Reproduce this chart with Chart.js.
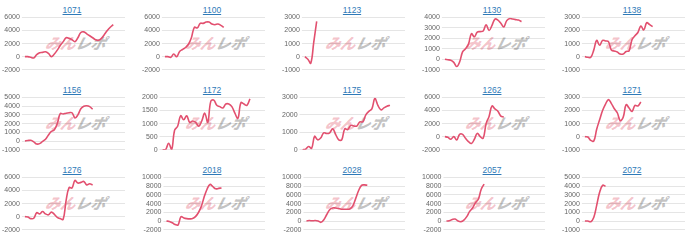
<!DOCTYPE html>
<html><head><meta charset="utf-8">
<script src="https://cdn.jsdelivr.net/npm/chart.js@4/dist/chart.umd.min.js"></script>
<style>
html,body{margin:0;padding:0;background:#fff;}
body{width:700px;height:240px;overflow:hidden;font-family:"Liberation Sans",Arial,sans-serif;}
#grid{position:relative;width:700px;height:240px;}
.panel{position:absolute;width:140px;height:80px;}
.title{position:absolute;left:0;width:144px;top:4px;text-align:center;font-size:8.5px;line-height:12px;}
.title a{color:#2f7ab8;text-decoration:underline;}
.wm{position:absolute;left:46px;top:34px;font-family:"Noto Sans CJK JP";font-weight:900;font-style:italic;font-size:15px;line-height:17px;white-space:nowrap;transform:skewX(-14deg);letter-spacing:0px;}
.wm .p{color:rgba(228,110,128,0.42);}
.wm .g{color:rgba(120,120,120,0.45);}
canvas{position:absolute;left:0;top:0;}
</style>
</head><body>
<div id="grid"></div>
<script>
const days = ['1','2','3','4','5','6','7','8','9','10','11','12','13','14','15','16','17','18','19','20','21','22','23','24','25','26','27','28','29','30','31','32','33','34','35'];
const codes = ['1071','1100','1123','1130','1138','1156','1172','1175','1262','1271','1276','2018','2028','2057','2072'];
const yMin  = [-2000,-2000,-1000,-1000,-1000,-1000,0,0,-2000,-1000,-2000,-2000,-2000,-2000,-1000];
const yMax  = [6000,6000,3000,4000,3000,5000,2000,3000,6000,3000,6000,10000,10000,10000,5000];
const yStep = [2000,2000,1000,1000,1000,1000,500,1000,2000,1000,2000,2000,2000,2000,1000];

const s1071 = [0,0,-100,-200,300,600,650,750,500,0,400,1000,1700,2300,2900,2800,2600,2300,2900,3700,3800,3500,3200,2900,2600,2500,2800,3400,4000,4500,4900];
const s1100 = [0,0,-100,400,0,800,1100,1400,1900,2900,4500,4400,5100,5100,5300,5300,5000,4900,5000,4800,4500];
const s1123 = [0,-200,-500,1100,2700];
const s1130 = [0,-50,-100,-300,-700,-250,700,1000,1450,2450,2150,2600,2650,2700,3300,2750,3250,3850,3750,3450,3100,3700,3900,3850,3800,3750,3600];
const s1138 = [0,-50,-50,500,1250,870,1250,1200,1150,500,430,350,200,200,400,450,1300,1600,1850,2350,2050,2600,2450,2300];
const s1156 = [0,50,80,-100,-350,-300,-50,200,700,1100,1300,2000,3150,3100,3200,3250,3250,2650,3000,3700,4000,4050,3950,3650];
const s1172 = [0,0,250,0,750,900,1300,1150,1300,1050,1100,1050,900,1100,1400,1050,1850,1900,1700,1650,1600,1750,1750,1650,1400,1200,1800,1750,1700,1950];
const s1175 = [0,30,180,80,770,570,670,970,930,970,1200,870,570,570,1200,1160,1400,1360,1360,1600,1600,2000,2200,2350,2940,2550,2290,2400,2500,2550];
const s1262 = [0,-100,-400,0,-500,350,350,-250,-750,-1050,-400,500,0,-250,2000,3100,4700,4250,3900,3150,3000];
const s1271 = [0,-30,-290,-340,570,1300,2000,2500,2840,2530,2140,1830,1230,1490,2450,2190,1930,2400,2350,2660];
const s1276 = [0,-50,-300,-250,600,420,780,420,280,700,360,-100,-300,-400,2500,4450,4400,5550,5150,5250,5400,4850,5050,4850];
const s2018 = [0,-100,-400,-800,-900,1000,700,550,500,550,1000,1900,3300,5500,7300,8400,7900,7400,7500,7600];
const s2028 = [0,100,50,100,0,-300,300,1500,2600,3000,3000,2900,2700,2700,2700,2800,3500,5200,7000,8200,8300,8200];
const s2057 = [0,50,350,450,0,-150,200,1000,2200,3000,4200,5000,7300,8500];
const s2072 = [0,0,-80,400,1800,3300,4100,4000];

const series = [s1071,s1100,s1123,s1130,s1138,s1156,s1172,s1175,s1262,s1271,s1276,s2018,s2028,s2057,s2072];

const grid = document.getElementById('grid');
codes.forEach((code, i) => {
  const col = i % 5, row = Math.floor(i / 5);
  const p = document.createElement('div');
  p.className = 'panel';
  p.style.left = (col * 140) + 'px';
  p.style.top = (row * 80) + 'px';
  p.innerHTML = '<div class="title"><a href="#">' + code + '</a></div>' +
    '<div class="wm"><span class="p">みん</span><span class="g">レポ</span></div>';
  const c = document.createElement('canvas');
  c.width = 140; c.height = 80;
  c.style.width = '140px'; c.style.height = '80px';
  p.appendChild(c);
  grid.appendChild(p);
  new Chart(c.getContext('2d'), {
    type: 'line',
    data: {
      labels: days,
      datasets: [{
        data: series[i],
        borderColor: '#e2506f',
        borderWidth: 1.6,
        pointRadius: 0,
        fill: false,
        tension: 0.4
      }]
    },
    options: {
      responsive: false,
      maintainAspectRatio: false,
      animation: false,
      layout: { padding: { top: 17.5, bottom: 10.3, right: 15, left: 0 } },
      plugins: { legend: { display: false }, tooltip: { enabled: false }, title: { display: false } },
      scales: {
        x: { display: false },
        y: {
          min: yMin[i], max: yMax[i],
          border: { display: false },
          grid: { color: 'rgba(0,0,0,0.1)', drawTicks: true, tickLength: 3, lineWidth: 1 },
          ticks: {
            stepSize: yStep[i], autoSkip: false, padding: 2, color: '#666',
            font: { size: 7, family: '"Liberation Sans", Arial, sans-serif' },
            callback: (v) => String(v)
          }
        }
      }
    }
  });
});
</script>
</body></html>
